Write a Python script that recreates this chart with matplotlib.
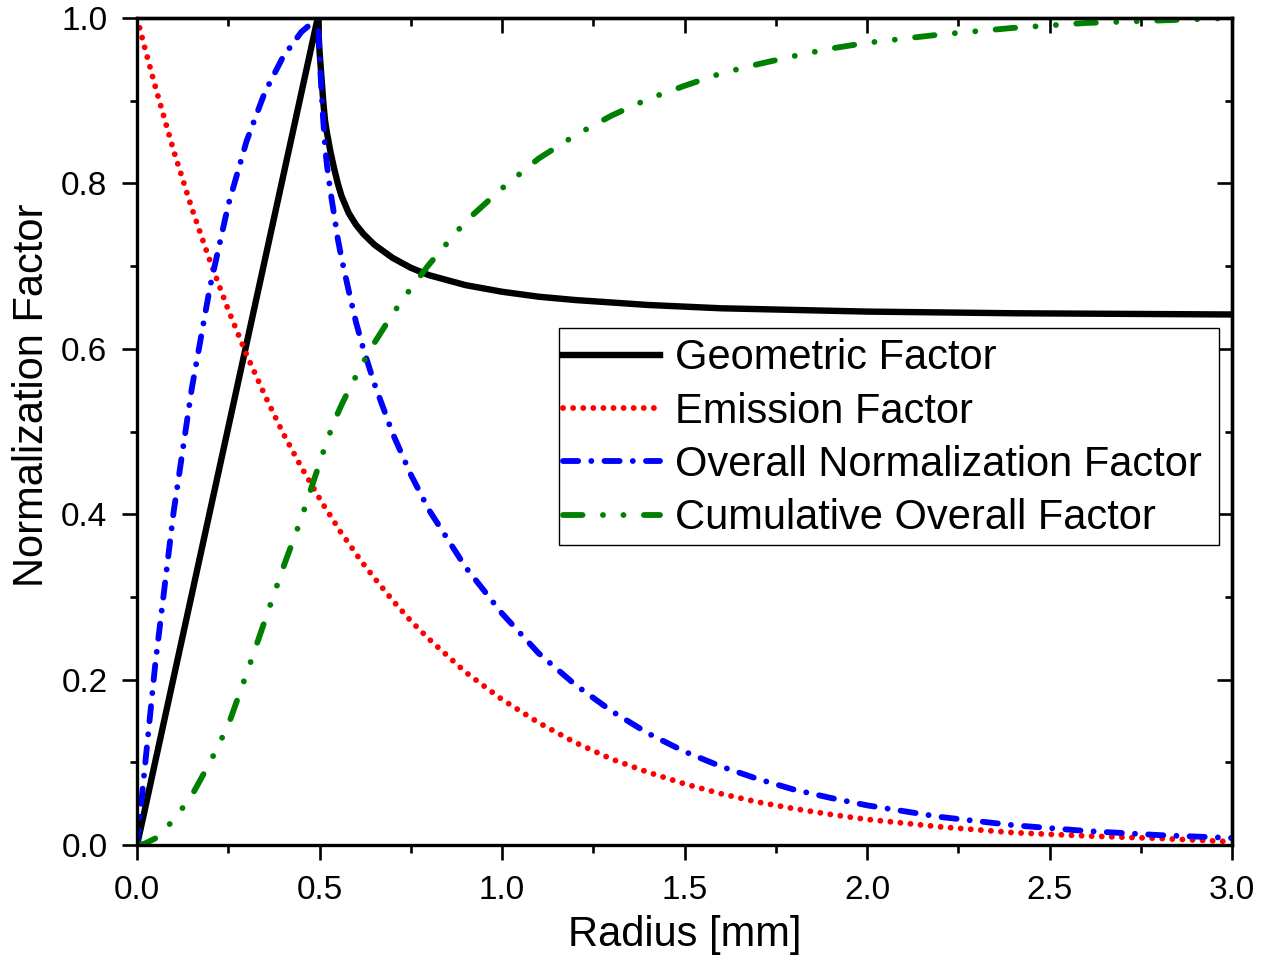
import matplotlib
matplotlib.use("Agg")
import matplotlib.pyplot as plt
from matplotlib.patches import Rectangle
from matplotlib.ticker import MultipleLocator, FormatStrFormatter

# ===================== 数据 =====================
radius = [0, 0.02, 0.05, 0.1, 0.15, 0.2, 0.25, 0.3, 0.35, 0.4, 0.45,
          0.495, 0.5, 0.505, 0.51, 0.515, 0.52, 0.53, 0.54, 0.55, 0.56,
          0.58, 0.6, 0.62, 0.65, 0.7, 0.75, 0.8, 0.9,
          1.0, 1.1, 1.2, 1.3, 1.4, 1.5, 1.6, 1.7, 1.8, 1.9, 2.0,
          2.2, 2.4, 2.6, 2.8, 3.0]

geometric = [0, 0.040, 0.101, 0.202, 0.303, 0.404, 0.505, 0.606, 0.707, 0.808, 0.909,
             1.0, 0.960, 0.930, 0.900, 0.876, 0.862, 0.838, 0.818, 0.800, 0.785,
             0.764, 0.750, 0.739, 0.726, 0.710, 0.698, 0.689, 0.677,
             0.669, 0.663, 0.659, 0.656, 0.653, 0.651, 0.649, 0.648, 0.647, 0.646, 0.645,
             0.644, 0.643, 0.6425, 0.642, 0.6415]

emission = [1.0, 0.966, 0.917, 0.840, 0.770, 0.706, 0.647, 0.593, 0.544, 0.498, 0.457,
            0.423, 0.419, 0.415, 0.412, 0.408, 0.405, 0.398, 0.391, 0.384, 0.377,
            0.365, 0.352, 0.340, 0.323, 0.296, 0.271, 0.249, 0.209,
            0.176, 0.148, 0.124, 0.104, 0.088, 0.074, 0.062, 0.052, 0.044, 0.037, 0.031,
            0.022, 0.015, 0.011, 0.008, 0.004]

overall = [0, 0.088, 0.219, 0.402, 0.552, 0.675, 0.774, 0.851, 0.910, 0.953, 0.983,
           1.0, 0.955, 0.914, 0.877, 0.846, 0.823, 0.790, 0.762, 0.733, 0.710,
           0.670, 0.632, 0.600, 0.558, 0.498, 0.448, 0.405, 0.336,
           0.280, 0.232, 0.194, 0.162, 0.135, 0.113, 0.095, 0.080, 0.067, 0.057, 0.048,
           0.034, 0.024, 0.017, 0.012, 0.0085]

cumulative = [0, 0.0015, 0.008, 0.030, 0.060, 0.100, 0.145, 0.207, 0.271, 0.335, 0.395,
              0.455, 0.462, 0.469, 0.475, 0.482, 0.488, 0.500, 0.512, 0.522, 0.532,
              0.550, 0.567, 0.584, 0.607, 0.642, 0.673, 0.702, 0.754,
              0.794, 0.830, 0.858, 0.882, 0.902, 0.918, 0.933, 0.944, 0.954, 0.963, 0.970,
              0.980, 0.988, 0.994, 0.997, 1.0]

# ===================== 绘图设置 =====================
plt.rcParams["font.family"] = ["Liberation Sans", "DejaVu Sans"]
LW = 4.2
SPINE_W = 2.4
TICK_W = 1.9
MAJ_LEN = 10.8
MIN_LEN = 5.4

fig = plt.figure(figsize=(12.7, 9.57), dpi=100)
ax = fig.add_axes([0.1079, 0.117, 0.8622, 0.8642])

ax.plot(radius, geometric, color="black", lw=4.6, solid_joinstyle="round",
        label="Geometric Factor")
ax.plot(radius, emission, color="red", lw=LW, dashes=(0.01, 1.72),
        dash_capstyle="round", label="Emission Factor")
ax.plot(radius, overall, color="blue", lw=LW, dashes=(2.6, 2.25, 0.01, 2.25),
        dash_capstyle="round", label="Overall Normalization Factor")
ax.plot(radius, cumulative, color="green", lw=LW, dashes=(3.35, 3.5, 0.01, 3.5, 0.01, 3.5),
        dash_capstyle="round", label="Cumulative Overall Factor")

ax.set_xlim(0, 3)
ax.set_ylim(0, 1)
ax.xaxis.set_major_locator(MultipleLocator(0.5))
ax.xaxis.set_minor_locator(MultipleLocator(0.25))
ax.yaxis.set_major_locator(MultipleLocator(0.2))
ax.yaxis.set_minor_locator(MultipleLocator(0.1))
ax.xaxis.set_major_formatter(FormatStrFormatter("%.1f"))
ax.yaxis.set_major_formatter(FormatStrFormatter("%.1f"))

ax.tick_params(which="both", direction="out", top=False, right=False,
               width=TICK_W, labelsize=24, pad=10.5)
ax.tick_params(which="major", length=MAJ_LEN)
ax.tick_params(which="minor", length=MIN_LEN)
for s in ax.spines.values():
    s.set_linewidth(SPINE_W)

# 上、右两侧刻度朝内
top = ax.secondary_xaxis("top")
top.xaxis.set_major_locator(MultipleLocator(0.5))
top.xaxis.set_minor_locator(MultipleLocator(0.25))
top.tick_params(which="both", direction="in", width=TICK_W, labeltop=False)
top.tick_params(which="major", length=MAJ_LEN)
top.tick_params(which="minor", length=MIN_LEN)
top.spines["top"].set_linewidth(SPINE_W)

right = ax.secondary_yaxis("right")
right.yaxis.set_major_locator(MultipleLocator(0.2))
right.yaxis.set_minor_locator(MultipleLocator(0.1))
right.tick_params(which="both", direction="in", width=TICK_W, labelright=False)
right.tick_params(which="major", length=MAJ_LEN)
right.tick_params(which="minor", length=MIN_LEN)
right.spines["right"].set_linewidth(SPINE_W)

ax.set_xlabel("Radius [mm]", fontsize=30, labelpad=7)
ax.set_ylabel("Normalization Factor", fontsize=30)
ax.yaxis.set_label_coords(-0.078, 0.544)

# 图例：边框单独画，图例本身不带框
ax.add_patch(Rectangle((0.3854, 0.3628), 0.6027, 0.2624, transform=ax.transAxes,
                       facecolor="white", edgecolor="black", lw=1.0, zorder=4))
leg = ax.legend(loc="upper left", bbox_to_anchor=(0.3854, 0.6179), fontsize=30,
                frameon=False, borderaxespad=0, borderpad=0.1, labelspacing=0.32,
                handlelength=2.33, handletextpad=0.36)
leg.set_zorder(5)

plt.savefig("out.png", dpi=100)
